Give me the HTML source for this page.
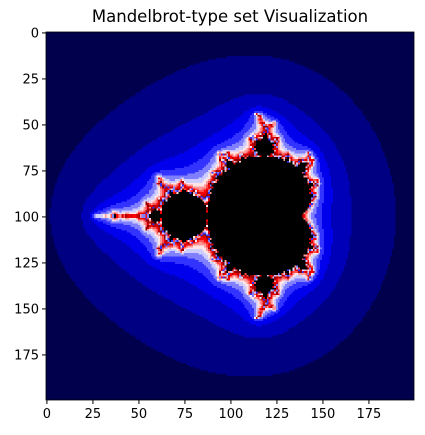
<!DOCTYPE html>
<html><head><meta charset="utf-8"><style>
body{margin:0;background:#fff;width:425px;height:435px;overflow:hidden;position:relative;font-family:"DejaVu Sans","Liberation Sans",sans-serif;}
#title{position:absolute;top:7px;left:46px;width:368px;text-align:center;font-size:16.5px;color:#000;}
#img{position:absolute;left:46px;top:32px;width:368px;height:368px;image-rendering:pixelated;}
svg{position:absolute;left:0;top:0;}
</style></head><body>
<div id="title">Mandelbrot-type set Visualization</div>
<canvas id="img" width="200" height="200"></canvas>
<svg id="axes" width="425" height="435"></svg>
<script>
const xTicks=[0,25,50,75,100,125,150,175];
const yTicks=[0,25,50,75,100,125,150,175];
const reRange=[-2.5,1.5];
const imRange=[-2,2];
const gridSize=200;
const escapeRadius=10.5;
const maxIter=100;
const colorStep=0.075;

const L=46,T=32,S=368,px=S/gridSize;
function sx(i){return L+(i+0.5)*px;}
function sy(i){return T+(i+0.5)*px;}
function seismic(v){
  const st=[[0,0,0,0.3],[0.25,0,0,1],[0.5,1,1,1],[0.75,1,0,0],[1,0.5,0,0]];
  v=Math.max(0,Math.min(1,v));
  for(let k=0;k<4;k++){const a=st[k],b=st[k+1];if(v<=b[0]){const t=(v-a[0])/(b[0]-a[0]);return [0,1,2].map(j=>Math.round(255*(a[j+1]+(b[j+1]-a[j+1])*t)));}}
  return [128,0,0];
}
const cv=document.getElementById('img'),ctx=cv.getContext('2d');
const id=ctx.createImageData(gridSize,gridSize);
const R2=escapeRadius*escapeRadius;
for(let r=0;r<gridSize;r++){for(let c=0;c<gridSize;c++){
  const cr=reRange[0]+(reRange[1]-reRange[0])*c/(gridSize-1);
  const ci=imRange[0]+(imRange[1]-imRange[0])*r/(gridSize-1);
  let zr=0,zi=0,n=0;
  while(n<maxIter&&zr*zr+zi*zi<=R2){const t=zr*zr-zi*zi+cr;zi=2*zr*zi+ci;zr=t;n++;}
  const o=(r*gridSize+c)*4;
  let col;
  if(n>=maxIter) col=[0,0,0];
  else{
    let v=Math.max(0,n-3)*colorStep;
    if(v>1) v=0.25+((v-1)%0.75);
    col=seismic(v);
  }
  id.data[o]=col[0];id.data[o+1]=col[1];id.data[o+2]=col[2];id.data[o+3]=255;
}}
ctx.putImageData(id,0,0);

const svg=document.getElementById('axes'),NS='http://www.w3.org/2000/svg';
const fr=document.createElementNS(NS,'rect');
fr.setAttribute('x',L);fr.setAttribute('y',T);fr.setAttribute('width',S);fr.setAttribute('height',S);
fr.setAttribute('fill','none');fr.setAttribute('stroke','#000');fr.setAttribute('stroke-width','0.8');


svg.appendChild(fr);
xTicks.forEach(v=>{
  const x=sx(v);
  const l=document.createElementNS(NS,'line');
  l.setAttribute('x1',x);l.setAttribute('x2',x);l.setAttribute('y1',T+S);l.setAttribute('y2',T+S+4);l.setAttribute('stroke','#000');
  
  
  svg.appendChild(l);
  const t=document.createElementNS(NS,'text');
  t.setAttribute('x',x);t.setAttribute('y',T+S+18);t.setAttribute('text-anchor','middle');t.setAttribute('font-size','13');
  t.textContent=v;
  
  
  svg.appendChild(t);
});
yTicks.forEach(v=>{
  const y=sy(v);
  const l=document.createElementNS(NS,'line');
  l.setAttribute('x1',L-4);l.setAttribute('x2',L);l.setAttribute('y1',y);l.setAttribute('y2',y);l.setAttribute('stroke','#000');
  
  
  svg.appendChild(l);
  const t=document.createElementNS(NS,'text');
  t.setAttribute('x',L-7);t.setAttribute('y',y+4.5);t.setAttribute('text-anchor','end');t.setAttribute('font-size','13');
  t.textContent=v;
  
  
  svg.appendChild(t);
});
</script>
</body></html>
